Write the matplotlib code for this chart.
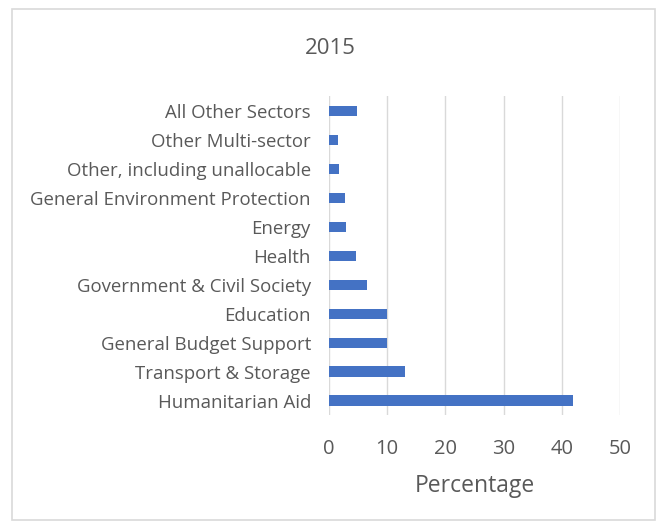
import matplotlib.pyplot as plt
from matplotlib.patches import Rectangle

# Sectors, bottom to top as drawn
sectors = ['Humanitarian Aid', 'Transport & Storage', 'General Budget Support',
           'Education', 'Government & Civil Society', 'Health', 'Energy',
           'General Environment Protection', 'Other, including unallocable',
           'Other Multi-sector', 'All Other Sectors']
percentages = [41.9, 13.0, 9.9, 9.9, 6.6, 4.7, 2.9, 2.7, 1.8, 1.6, 4.85]
xticks = [0, 10, 20, 30, 40, 50]

plt.rcParams['font.family'] = ['Open Sans', 'DejaVu Sans']
text_color = '#595959'

fig = plt.figure(figsize=(6.6, 5.25), dpi=100)
ax = fig.add_axes([0.4985, 0.2095, 0.4409, 0.607])

# Light border around the chart area
fig.patches.append(Rectangle((12 / 660, 5 / 525), 643 / 660, 511 / 525,
                             transform=fig.transFigure, fill=False,
                             edgecolor='#d9d9d9', linewidth=1.2))

ax.barh(range(len(sectors)), percentages, height=0.35, color='#4472c4', zorder=3)

ax.set_xlim(0, 50)
ax.set_ylim(-0.5, len(sectors) - 0.5)
ax.set_xticks(xticks)
ax.set_yticks(range(len(sectors)))
ax.set_yticklabels(sectors)
ax.tick_params(axis='both', length=0, colors=text_color)
ax.tick_params(axis='y', pad=13, labelsize=13.4)
ax.tick_params(axis='x', pad=17, labelsize=14.5)
ax.grid(axis='x', color='#d9d9d9', linewidth=1, zorder=0)
for s in ax.spines.values():
    s.set_visible(False)

ax.set_xlabel('Percentage', color=text_color, fontsize=16.5, labelpad=11)
fig.text(0.5, 1 - 48 / 525, '2015', ha='center', va='center',
         color=text_color, fontsize=16)

fig.savefig('out.png', dpi=100)
